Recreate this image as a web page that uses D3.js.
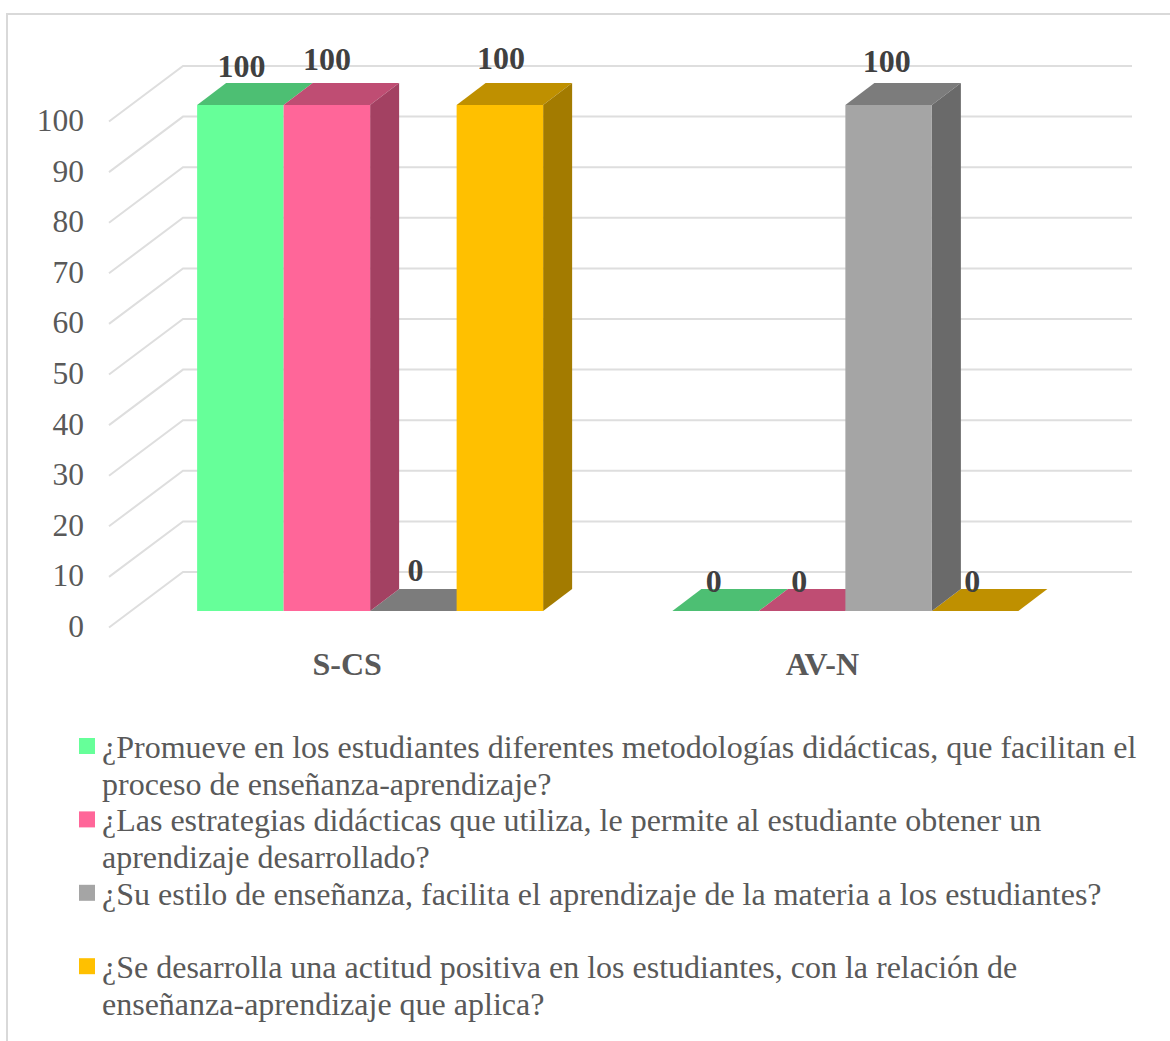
<!DOCTYPE html>
<html>

<head>
    <meta charset="utf-8">
    <style>
        body {
            margin: 0;
            background: #fff;
            overflow: hidden;
            font-family: "Liberation Serif", "Times New Roman", serif;
        }

        .grid {
            stroke: #dedede;
            stroke-width: 2;
            fill: none;
        }

        .tick-label text {
            font-size: 31.5px;
            fill: #595959;
            font-family: "Liberation Serif", serif;
        }

        .cat {
            font-size: 32px;
            font-weight: bold;
            fill: #595959;
            text-anchor: middle;
        }

        .value {
            font-size: 32px;
            font-weight: bold;
            fill: #404040;
            text-anchor: middle;
        }

        .legend {
            font-size: 32px;
            fill: #595959;
        }
    </style>
</head>

<body>
    <svg width="1170" height="1041"></svg>

    <script src="https://d3js.org/d3.v7.min.js"></script>
    <script>
        let categories = ["S-CS", "AV-N"];
        let seriesKeys = ["a", "b", "c", "d"];
        let valuesA = [100, 0];
        let valuesB = [100, 0];
        let valuesC = [0, 100];
        let valuesD = [100, 0];
        let allValues = [valuesA, valuesB, valuesC, valuesD];
        let colors = ["#66ff99", "#ff6699", "#a5a5a5", "#ffc000"];
        let yTicks = [0, 10, 20, 30, 40, 50, 60, 70, 80, 90, 100];
        let legendLines = [
            ["¿Promueve en los estudiantes diferentes metodologías didácticas, que facilitan el", "proceso de enseñanza-aprendizaje?"],
            ["¿Las estrategias didácticas que utiliza, le permite al estudiante obtener un", "aprendizaje desarrollado?"],
            ["¿Su estilo de enseñanza, facilita el aprendizaje de la materia a los estudiantes?", ""],
            ["¿Se desarrolla una actitud positiva en los estudiantes, con la relación de", "enseñanza-aprendizaje que aplica?"]
        ];

        // hand nudges for the value labels, same order as allValues
        let labelNudgeX = [[1, -2], [0, -3], [2, -2], [1, -3]];
        let labelNudgeY = [[-28, -19], [-35, -19], [-30, -33], [-36, -19]];

        let svg = d3.select("svg");

        // frame, runs off the right and bottom of the picture
        svg.append("rect")
            .attr("x", 7).attr("y", 14)
            .attr("width", 1300).attr("height", 1200)
            .attr("fill", "none")
            .attr("stroke", "#d9d9d9")
            .attr("stroke-width", 2);

        // y of the back wall
        let y = d3.scaleLinear().domain([0, 100]).range([572, 66]);

        // the walls: how far the front edge of the floor sits from the back
        let wallDx = -74;
        let wallDy = 55.5;
        let wallLeft = 183;
        let wallRight = 1132;

        let grid = svg.append("g");
        yTicks.forEach(t => {
            grid.append("path")
                .attr("class", "grid")
                .attr("d", d3.line()([
                    [wallLeft + wallDx, y(t) + wallDy],
                    [wallLeft, y(t)],
                    [wallRight, y(t)]
                ]));
        });

        let yFront = d3.scaleLinear().domain([0, 100]).range([y(0) + wallDy, y(100) + wallDy]);

        svg.append("g")
            .attr("class", "tick-label")
            .attr("transform", "translate(84,-1)")
            .call(d3.axisLeft(yFront).tickValues(yTicks).tickSize(0).tickPadding(0))
            .call(g => g.select(".domain").remove());

        // bars: a front face pulled out from the wall plus a top and a side
        let x0 = d3.scaleBand().domain(categories).range([132.5, 1083]);
        let x1 = d3.scaleBand().domain(seriesKeys).range([-173, 173]);

        let barDy = 39;
        let depthX = 29;
        let depthY = 22;

        let bars = [];
        seriesKeys.forEach((k, i) => {
            categories.forEach((c, j) => {
                let left = x0(c) + x0.bandwidth() / 2 + x1(k);
                let next = i < seriesKeys.length - 1 ? allValues[i + 1][j] : -1;
                bars.push({
                    left: left,
                    right: left + x1.bandwidth(),
                    top: y(allValues[i][j]) + barDy,
                    bottom: y(0) + barDy,
                    color: colors[i],
                    value: allValues[i][j],
                    // a side only shows when the next bar is shorter
                    showSide: allValues[i][j] > 0 && next < allValues[i][j],
                    nudgeX: labelNudgeX[i][j],
                    nudgeY: labelNudgeY[i][j]
                });
            });
        });

        let line = d3.line();
        let barLayer = svg.append("g");

        // tops first, then sides, then fronts, so neighbours overlap as in the chart
        barLayer.append("g").selectAll("path")
            .data(bars)
            .join("path")
            .attr("d", d => line([
                [d.left, d.top], [d.left + depthX, d.top - depthY],
                [d.right + depthX, d.top - depthY], [d.right, d.top]
            ]) + "Z")
            .attr("fill", d => {
                let c = d3.rgb(d.color);
                return d3.rgb(c.r * 0.75, c.g * 0.75, c.b * 0.75);
            });

        barLayer.append("g").selectAll("path")
            .data(bars.filter(d => d.showSide))
            .join("path")
            .attr("d", d => line([
                [d.right, d.top], [d.right + depthX, d.top - depthY],
                [d.right + depthX, d.bottom - depthY], [d.right, d.bottom]
            ]) + "Z")
            .attr("fill", d => {
                let c = d3.rgb(d.color);
                return d3.rgb(c.r * 0.64, c.g * 0.64, c.b * 0.64);
            });

        barLayer.append("g").selectAll("rect")
            .data(bars.filter(d => d.value > 0))
            .join("rect")
            .attr("x", d => d.left)
            .attr("y", d => d.top)
            .attr("width", d => d.right - d.left)
            .attr("height", d => d.bottom - d.top)
            .attr("fill", d => d.color);

        svg.append("g").selectAll("text")
            .data(bars)
            .join("text")
            .attr("class", "value")
            .attr("x", d => (d.left + d.right) / 2 + d.nudgeX)
            .attr("y", d => d.top + d.nudgeY)
            .text(d => d.value);

        svg.append("g").selectAll("text")
            .data(categories)
            .join("text")
            .attr("class", "cat")
            .attr("x", d => x0(d) + x0.bandwidth() / 2 - 23)
            .attr("y", 675)
            .text(d => d);

        // legend
        let legendX = 102;
        let legendTop = 758;
        let lineStep = 36.7;

        let legend = svg.append("g").selectAll("g")
            .data(legendLines)
            .join("g")
            .attr("transform", (d, i) => "translate(0," + (legendTop + i * 2 * lineStep) + ")");

        legend.append("rect")
            .attr("x", 79).attr("y", -20)
            .attr("width", 16).attr("height", 16)
            .attr("fill", (d, i) => colors[i]);

        legend.selectAll("text")
            .data(d => d)
            .join("text")
            .attr("class", "legend")
            .attr("x", legendX)
            .attr("y", (d, i) => i * lineStep)
            .text(d => d);
    </script>
</body>

</html>
